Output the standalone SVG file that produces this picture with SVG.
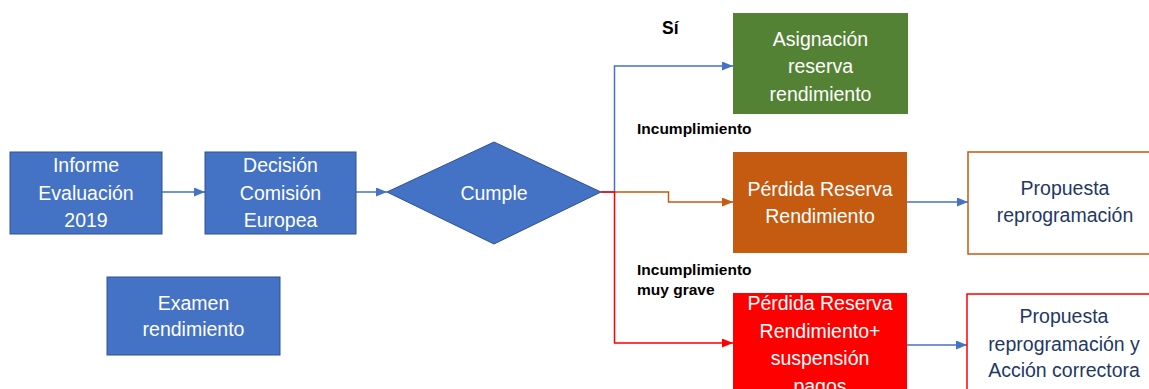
<svg xmlns="http://www.w3.org/2000/svg" width="1149" height="389" viewBox="0 0 1149 389">
<style>
.bx{fill:#4472C4;stroke:#2F528F;stroke-width:1}
.t{font-family:"Liberation Sans",Arial,sans-serif;font-size:19.5px;fill:#fff;text-anchor:middle}
.d{font-family:"Liberation Sans",Arial,sans-serif;font-size:19.5px;fill:#1F3864;text-anchor:middle}
.lb{font-family:"Liberation Sans",Arial,sans-serif;font-weight:bold;fill:#000}
.c{fill:none;stroke-width:1.5}
</style>
<defs>
<marker id="ab" markerWidth="11" markerHeight="9" refX="11" refY="4.5" orient="auto" markerUnits="userSpaceOnUse"><path d="M0,0 L11,4.5 L0,9 Z" fill="#4472C4"/></marker>
<marker id="ao" markerWidth="11" markerHeight="9" refX="11" refY="4.5" orient="auto" markerUnits="userSpaceOnUse"><path d="M0,0 L11,4.5 L0,9 Z" fill="#C55A11"/></marker>
<marker id="ar" markerWidth="11" markerHeight="9" refX="11" refY="4.5" orient="auto" markerUnits="userSpaceOnUse"><path d="M0,0 L11,4.5 L0,9 Z" fill="#FF0000"/></marker>
</defs>
<rect width="1149" height="389" fill="#fff"/>
<g id="connectors">
<path class="c" stroke="#4472C4" d="M162,192 H205" marker-end="url(#ab)"/>
<path class="c" stroke="#4472C4" d="M356,192 H387" marker-end="url(#ab)"/>
<path class="c" stroke="#4472C4" d="M601,192 H614.5 V66 H733" marker-end="url(#ab)"/>
<path class="c" stroke="#C55A11" d="M614.5,192 H668.5 V202 H733" marker-end="url(#ao)"/>
<path class="c" stroke="#FF0000" d="M601,192 H614.5 V343 H733" marker-end="url(#ar)"/>
<path class="c" stroke="#4472C4" d="M907,202 H968" marker-end="url(#ab)"/>
<path class="c" stroke="#4472C4" d="M907,345 H967" marker-end="url(#ab)"/>
</g>
<g id="labels">
<text class="lb" x="662" y="34" font-size="17.5">Sí</text>
<text class="lb" x="637" y="134" font-size="15.5">Incumplimiento</text>
<text class="lb" x="637" y="275" font-size="15.5">Incumplimiento</text>
<text class="lb" x="637" y="295" font-size="15.5">muy grave</text>
</g>
<g id="informe">
<rect class="bx" x="10" y="152" width="152" height="82"/>
<text class="t" x="86" y="172">Informe</text>
<text class="t" x="86" y="200">Evaluación</text>
<text class="t" x="86" y="227">2019</text>
</g>
<g id="decision">
<rect class="bx" x="205" y="152" width="151" height="82"/>
<text class="t" x="280.5" y="172">Decisión</text>
<text class="t" x="280.5" y="200">Comisión</text>
<text class="t" x="280.5" y="227">Europea</text>
</g>
<g id="cumple">
<path class="bx" d="M387,192 L494,142 L601,192 L494,244 Z"/>
<text class="t" x="494" y="200">Cumple</text>
</g>
<g id="examen">
<rect class="bx" x="107" y="277" width="173" height="78"/>
<text class="t" x="193.5" y="310">Examen</text>
<text class="t" x="193.5" y="336">rendimiento</text>
</g>
<g id="asignacion">
<rect x="733" y="13" width="175" height="101" fill="#548235"/>
<text class="t" x="820.5" y="46">Asignación</text>
<text class="t" x="820.5" y="73">reserva</text>
<text class="t" x="820.5" y="101">rendimiento</text>
</g>
<g id="perdida">
<rect x="733" y="152" width="174" height="101" fill="#C55A11"/>
<text class="t" x="820" y="196">Pérdida Reserva</text>
<text class="t" x="820" y="223">Rendimiento</text>
</g>
<g id="propuesta">
<rect x="968" y="152" width="194" height="102" fill="#fff" stroke="#C55A11" stroke-width="1.5"/>
<text class="d" x="1065" y="195">Propuesta</text>
<text class="d" x="1065" y="222">reprogramación</text>
</g>
<g id="perdida-grave">
<rect x="733" y="293" width="174" height="110" fill="#FF0000"/>
<text class="t" x="820" y="310">Pérdida Reserva</text>
<text class="t" x="820" y="338">Rendimiento+</text>
<text class="t" x="820" y="365">suspensión</text>
<text class="t" x="820" y="393">pagos</text>
</g>
<g id="propuesta-accion">
<rect x="967" y="294" width="194" height="110" fill="#fff" stroke="#FF0000" stroke-width="1.5"/>
<text class="d" x="1064" y="323">Propuesta</text>
<text class="d" x="1064" y="351">reprogramación y</text>
<text class="d" x="1064" y="377">Acción correctora</text>
</g>
</svg>
